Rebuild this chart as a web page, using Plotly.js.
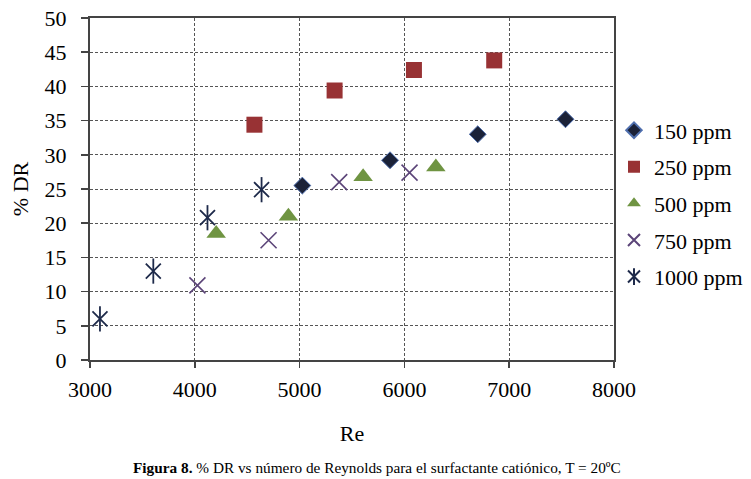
<!DOCTYPE html>
<html>
<head>
<meta charset="utf-8">
<script src="https://cdn.plot.ly/plotly-3.0.1.min.js"></script>
<style>html,body{margin:0;padding:0;background:#fff;}#chart{width:751px;height:479px;}</style>
</head>
<body>
<div id="chart"></div>
<script>
// Data
const seriesNames = ["150 ppm", "250 ppm", "500 ppm", "750 ppm", "1000 ppm"];
const re150 = [5026, 5863, 6700, 7537];
const dr150 = [25.5, 29.2, 33.0, 35.2];
const re250 = [4569, 5334, 6091, 6857];
const dr250 = [34.4, 39.4, 42.4, 43.8];
const re500 = [4204, 4893, 5606, 6300];
const dr500 = [18.5, 21.0, 26.8, 28.2];
const re750 = [4025, 4704, 5378, 6049];
const dr750 = [10.9, 17.5, 26.0, 27.4];
const re1000 = [3095, 3604, 4121, 4637];
const dr1000 = [6.0, 13.0, 20.8, 24.9];
const xTicks = [3000, 4000, 5000, 6000, 7000, 8000];
const yTicks = [0, 5, 10, 15, 20, 25, 30, 35, 40, 45, 50];

const serif = "Liberation Serif, Times New Roman, serif";

const traces = [
  {x: re150, y: dr150, name: seriesNames[0], type: "scatter", mode: "markers", legendgroup: "g1",
   marker: {symbol: "diamond", size: 13, color: "#1b2238", line: {color: "#4f6fae", width: 1}}},
  {x: re250, y: dr250, name: seriesNames[1], type: "scatter", mode: "markers", legendgroup: "g2",
   marker: {symbol: "square", size: 16, color: "#983234"}},
  {x: re500, y: dr500, name: seriesNames[2], type: "scatter", mode: "markers", legendgroup: "g3",
   marker: {symbol: "triangle-up", size: 17, color: "#6f9442"}},
  {x: re750, y: dr750, name: seriesNames[3], type: "scatter", mode: "markers", legendgroup: "g4",
   marker: {symbol: "x-thin-open", size: 16, color: "#5b4478", line: {color: "#5b4478", width: 1.6}}},
  {x: re1000, y: dr1000, name: seriesNames[4], type: "scatter", mode: "markers", legendgroup: "g5",
   marker: {symbol: "x-thin-open", size: 15, color: "#1e2a4a", line: {color: "#1e2a4a", width: 1.8}}},
  {x: re1000, y: dr1000, name: "", type: "scatter", mode: "markers", legend: "legend2",
   marker: {symbol: "line-ns-open", size: 18, color: "#1e2a4a", line: {color: "#1e2a4a", width: 1.8}}}
];

const layout = {
  width: 751, height: 479,
  margin: {l: 90, r: 137, t: 18, b: 119, autoexpand: false},
  paper_bgcolor: "#ffffff", plot_bgcolor: "#ffffff",
  font: {family: serif, size: 22, color: "#000"},
  showlegend: true,
  xaxis: {
    range: [3000, 8000], tickvals: xTicks, ticktext: xTicks.map(String),
    showline: true, linecolor: "#444", linewidth: 2, mirror: true,
    ticks: "outside", ticklen: 6, tickwidth: 1.5, tickcolor: "#444",
    ticklabelstandoff: 3,
    showgrid: true, gridcolor: "#555", gridwidth: 1, griddash: "3px,2px",
    zeroline: false, automargin: false,
    tickfont: {family: serif, size: 22, color: "#000"},
    title: {text: "Re", font: {family: serif, size: 22, color: "#000"}, standoff: 24}
  },
  yaxis: {
    range: [0, 50], tickvals: yTicks, ticktext: yTicks.map(String),
    showline: true, linecolor: "#444", linewidth: 2, mirror: true,
    ticks: "outside", ticklen: 7, tickwidth: 1.5, tickcolor: "#444",
    ticklabelstandoff: 10,
    showgrid: true, gridcolor: "#555", gridwidth: 1, griddash: "3px,2px",
    zeroline: false, automargin: false,
    tickfont: {family: serif, size: 22, color: "#000"},
    title: {text: "% DR", font: {family: serif, size: 22, color: "#000"}, standoff: 10}
  },
  legend: {
    x: 1.0, xanchor: "left", y: 0.458, yanchor: "middle",
    font: {family: serif, size: 22, color: "#000"},
    itemsizing: "constant", traceorder: "grouped", tracegroupgap: 5,
    bgcolor: "rgba(0,0,0,0)", borderwidth: 0
  },
  legend2: {
    x: 1.0, xanchor: "left", y: 0.243, yanchor: "middle",
    font: {family: serif, size: 22, color: "#000"},
    itemsizing: "constant",
    bgcolor: "rgba(0,0,0,0)", borderwidth: 0
  },
  annotations: [{
    xref: "paper", yref: "paper", x: 0.548, y: -0.314, xanchor: "center", yanchor: "middle",
    showarrow: false, text: "<b>Figura 8.</b> % DR vs número de Reynolds para el surfactante catiónico, T = 20ºC",
    font: {family: serif, size: 15.3, color: "#000"}
  }]
};

Plotly.newPlot("chart", traces, layout, {displayModeBar: false, staticPlot: true});
</script>
</body>
</html>
